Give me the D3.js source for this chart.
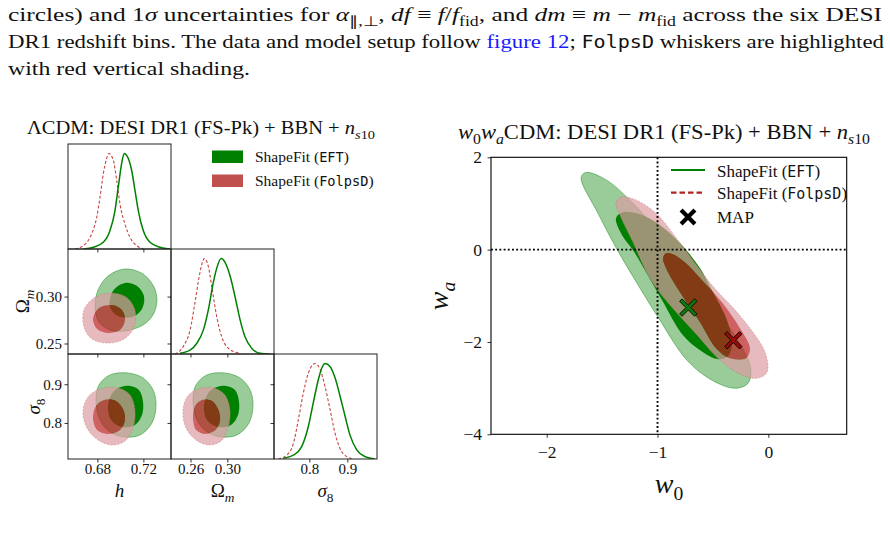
<!DOCTYPE html>
<html><head><meta charset="utf-8">
<script src="https://cdn.jsdelivr.net/npm/d3@7"></script>
<style>body{margin:0;background:#fff}svg{display:block}</style>
</head><body>
<svg id="c" width="890" height="533"></svg>
<script>
// ---------------- DATA ----------------
const hDomain = [0.6545, 0.744], omDomain = [0.2388, 0.3507], s8Domain = [0.707, 0.978];
const hTicks = [0.68, 0.72], omTicksX = [0.26, 0.30], omTicksY = [0.25, 0.30], s8Ticks = [0.8, 0.9];
const w0Domain = [-2.503, 0.7075], waDomain = [-4, 2];
const w0Ticks = [-2, -1, 0], waTicks = [-4, -2, 0, 2];

// 1D marginals (normalised density)
const hEftX = [0.6678,0.6765,0.6852,0.6910,0.6953,0.6982,0.7011,0.7034,0.7055,0.7098,0.7127,0.7156,0.7199,0.7257,0.7344,0.7431];
const hEftP = [0,0.018,0.07,0.193,0.40,0.65,0.895,1,0.98,0.825,0.614,0.40,0.193,0.07,0.018,0];
const hFolX = [0.6606,0.6678,0.6751,0.6794,0.6823,0.6852,0.6881,0.6901,0.6939,0.6968,0.6997,0.7040,0.7084,0.7142,0.7199];
const hFolP = [0,0.035,0.16,0.33,0.54,0.79,0.95,1,0.93,0.72,0.47,0.26,0.12,0.035,0];
const omEftX = [0.2486,0.2595,0.2667,0.2739,0.2793,0.2848,0.2885,0.2932,0.2975,0.3029,0.3084,0.3138,0.3192,0.3265,0.3355,0.3464];
const omEftP = [0.007,0.04,0.11,0.25,0.46,0.75,0.9,1,0.96,0.82,0.6,0.36,0.18,0.06,0.007,0];
const omFolX = [0.2431,0.2522,0.2595,0.2649,0.2696,0.2750,0.2793,0.2830,0.2885,0.2939,0.3011,0.3138];
const omFolP = [0,0.08,0.25,0.54,0.82,1,0.92,0.71,0.39,0.18,0.06,0.007];
const s8EftX = [0.7315,0.7578,0.7799,0.7973,0.8104,0.8236,0.8325,0.8412,0.8544,0.8676,0.8807,0.8939,0.9070,0.9247,0.9465,0.9728];
const s8EftP = [0.007,0.04,0.13,0.34,0.59,0.83,0.95,1,0.97,0.85,0.66,0.45,0.25,0.095,0.025,0];
const s8FolX = [0.7183,0.7404,0.7578,0.7710,0.7841,0.7973,0.8149,0.8281,0.8412,0.8544,0.8676,0.8807,0.8983,0.9157];
const s8FolP = [0,0.04,0.16,0.41,0.69,0.9,1,0.94,0.76,0.52,0.27,0.11,0.025,0];

// 2D contours (95% / 68%), [x, y] in data units
const hOmEft95 = [[0.7040,0.3294],[0.7197,0.3241],[0.7292,0.3102],[0.7318,0.2953],[0.7283,0.2804],[0.7197,0.2697],[0.7040,0.2633],[0.6910,0.2644],[0.6814,0.2729],[0.6780,0.2889],[0.6806,0.3070],[0.6893,0.3220]];
const hOmEft68 = [[0.7040,0.3145],[0.7145,0.3113],[0.7205,0.3006],[0.7188,0.2868],[0.7101,0.2782],[0.6980,0.2793],[0.6910,0.2889],[0.6936,0.3060]];
const hOmFol95 = [[0.6910,0.3038],[0.7049,0.2996],[0.7127,0.2857],[0.7119,0.2676],[0.7032,0.2548],[0.6893,0.2505],[0.6754,0.2548],[0.6684,0.2676],[0.6684,0.2857],[0.6771,0.2985]];
const hOmFol68 = [[0.6927,0.2910],[0.7014,0.2857],[0.7040,0.2750],[0.6997,0.2644],[0.6893,0.2612],[0.6797,0.2655],[0.6762,0.2761],[0.6814,0.2878]];

const hS8Eft95 = [[0.6910,0.9241],[0.7058,0.9292],[0.7197,0.9163],[0.7284,0.8853],[0.7310,0.8465],[0.7275,0.8000],[0.7171,0.7690],[0.7040,0.7638],[0.6910,0.7768],[0.6823,0.8078],[0.6788,0.8595],[0.6814,0.8982]];
const hS8Eft68 = [[0.7084,0.8956],[0.7162,0.8853],[0.7197,0.8543],[0.7188,0.8207],[0.7127,0.7949],[0.7014,0.7897],[0.6919,0.8078],[0.6893,0.8465],[0.6936,0.8801],[0.7006,0.8930]];
const hS8Fol95 = [[0.6823,0.8879],[0.6980,0.8905],[0.7084,0.8724],[0.7127,0.8336],[0.7110,0.7871],[0.7040,0.7535],[0.6927,0.7432],[0.6806,0.7561],[0.6710,0.7871],[0.6675,0.8284],[0.6719,0.8672]];
const hS8Fol68 = [[0.6858,0.8595],[0.6962,0.8569],[0.7023,0.8362],[0.7040,0.8078],[0.6997,0.7819],[0.6893,0.7716],[0.6797,0.7819],[0.6762,0.8129],[0.6788,0.8440]];

const omS8Eft95 = [[0.2779,0.9241],[0.2964,0.9292],[0.3138,0.9163],[0.3247,0.8853],[0.3279,0.8465],[0.3236,0.8000],[0.3105,0.7690],[0.2942,0.7638],[0.2779,0.7768],[0.2671,0.8078],[0.2627,0.8595],[0.2660,0.8982]];
const omS8Eft68 = [[0.2986,0.8956],[0.3084,0.8853],[0.3127,0.8543],[0.3116,0.8207],[0.3040,0.7949],[0.2899,0.7897],[0.2779,0.8078],[0.2747,0.8465],[0.2801,0.8801],[0.2888,0.8930]];
const omS8Fol95 = [[0.2681,0.8879],[0.2855,0.8905],[0.2975,0.8724],[0.3029,0.8336],[0.3008,0.7871],[0.2932,0.7535],[0.2801,0.7432],[0.2660,0.7561],[0.2551,0.7871],[0.2518,0.8284],[0.2562,0.8672]];
const omS8Fol68 = [[0.2725,0.8595],[0.2834,0.8569],[0.2899,0.8362],[0.2921,0.8078],[0.2872,0.7819],[0.2758,0.7716],[0.2660,0.7819],[0.2627,0.8129],[0.2649,0.8440]];

// w0-wa contours
const w0waEft95 = [[-1.645,1.673],[-1.690,1.565],[-1.537,0.786],[-1.366,0.006],[-1.185,-0.729],[-0.995,-1.465],[-0.734,-2.396],[-0.508,-2.829],[-0.301,-3.002],[-0.183,-2.894],[-0.165,-2.504],[-0.553,-0.989],[-0.851,-0.015],[-1.005,0.418],[-1.221,1.002],[-1.456,1.500]];
const w0waEft68 = [[-1.320,0.807],[-1.375,0.677],[-1.320,0.310],[-1.221,-0.015],[-1.113,-0.448],[-0.959,-1.097],[-0.770,-1.855],[-0.616,-2.180],[-0.454,-2.374],[-0.364,-2.309],[-0.328,-2.028],[-0.373,-1.530],[-0.508,-0.881],[-0.616,-0.405],[-0.779,0.093],[-0.977,0.526],[-1.158,0.764]];
const w0waFol95 = [[-1.338,1.132],[-1.375,1.002],[-1.338,0.742],[-1.230,0.201],[-1.041,-0.729],[-0.634,-1.877],[-0.436,-2.396],[-0.255,-2.699],[-0.102,-2.786],[-0.012,-2.656],[-0.030,-2.223],[-0.237,-1.487],[-0.508,-0.773],[-0.761,0.028],[-1.023,0.807],[-1.230,1.110]];
const w0waFol68 = [[-0.923,-0.080],[-0.950,-0.188],[-0.905,-0.491],[-0.797,-0.924],[-0.616,-1.574],[-0.472,-2.136],[-0.346,-2.353],[-0.201,-2.353],[-0.165,-2.136],[-0.255,-1.703],[-0.418,-1.141],[-0.598,-0.665],[-0.743,-0.297],[-0.860,-0.102]];
const mapEft = [-0.722, -1.255], mapFol = [-0.316, -1.963];
const refW0 = -1, refWa = 0;

const seriesNames = ["EFT", "FolpsD"];

// ---------------- STYLE ----------------
const SERIF = "'Liberation Serif','Times New Roman',serif";
const MONO = "'DejaVu Sans Mono','Liberation Mono',monospace";
const GREEN = "#008000";
const RED_LINE = "#c84444";
const RED_PATCH = "#c0504d";
const FOL_OUT = "rgb(220,156,163)", FOL_IN = "rgb(185,30,30)";

const svg = d3.select("#c");
svg.append("rect").attr("width", 890).attr("height", 533).attr("fill", "#fff");

function rich(g, x, y, segs, size, anchor) {
  const t = g.append("text").attr("x", x).attr("y", y)
    .attr("font-family", SERIF).attr("font-size", size).attr("fill", "#111");
  if (anchor) t.attr("text-anchor", anchor);
  let shift = 0;
  segs.forEach(s => {
    const sp = t.append("tspan").text(s.t);
    const target = s.sub ? size * 0.26 : 0;
    const dy = target - shift;
    if (Math.abs(dy) > 1e-6) sp.attr("dy", dy);
    shift = target;
    if (s.sub) sp.attr("font-size", size * 0.7);
    if (s.it) sp.attr("font-style", "italic");
    if (s.mono) sp.attr("font-family", MONO).attr("font-size", (s.sub ? 0.7 : 1) * size * 0.88);
    if (s.fill) sp.attr("fill", s.fill);
  });
  return t;
}
function fit(t, width) {
  t.attr("textLength", width).attr("lengthAdjust", "spacingAndGlyphs");
  return t;
}

// ---------------- CAPTION ----------------
const cap = svg.append("g");
const CS = 19.5;
fit(rich(cap, 8, 21, [
  {t: "circles) and 1"}, {t: "σ", it: 1}, {t: " uncertainties for "}, {t: "α", it: 1}, {t: "∥,⊥", sub: 1},
  {t: ", "}, {t: "df", it: 1}, {t: " ≡ "}, {t: "f", it: 1}, {t: "/"}, {t: "f", it: 1}, {t: "fid", sub: 1},
  {t: ", and "}, {t: "dm", it: 1}, {t: " ≡ "}, {t: "m", it: 1}, {t: " − "}, {t: "m", it: 1}, {t: "fid", sub: 1},
  {t: " across the six DESI"}], CS), 874);
fit(rich(cap, 8, 48, [
  {t: "DR1 redshift bins. The data and model setup follow "}, {t: "figure 12", fill: "#1a1aff"},
  {t: "; "}, {t: "FolpsD", mono: 1}, {t: " whiskers are highlighted"}], CS), 876);
fit(rich(cap, 8, 75, [{t: "with red vertical shading."}], CS), 242);

// ---------------- CORNER PLOT ----------------
const cols = [68, 171, 274], rows = [144, 249, 354], PW = 103, PH = 105;
const vars = [
  {key: "h", domain: hDomain, tx: hTicks, ty: hTicks, fmt: d3.format(".2f"), lab: [{t: "h", it: 1}]},
  {key: "om", domain: omDomain, tx: omTicksX, ty: omTicksY, fmt: d3.format(".2f"), lab: [{t: "Ω"}, {t: "m", it: 1, sub: 1}]},
  {key: "s8", domain: s8Domain, tx: s8Ticks, ty: s8Ticks, fmt: d3.format(".1f"), lab: [{t: "σ", it: 1}, {t: "8", sub: 1}]}
];
const marg = [
  [[hEftX, hEftP], [hFolX, hFolP]],
  [[omEftX, omEftP], [omFolX, omFolP]],
  [[s8EftX, s8EftP], [s8FolX, s8FolP]]
];
const cont = {
  "1-0": [hOmEft95, hOmEft68, hOmFol95, hOmFol68],
  "2-0": [hS8Eft95, hS8Eft68, hS8Fol95, hS8Fol68],
  "2-1": [omS8Eft95, omS8Eft68, omS8Fol95, omS8Fol68]
};
const defs = svg.append("defs");
let clipId = 0;

function drawContours(g, xs, ys, c) {
  const line = d3.line().x(d => xs(d[0])).y(d => ys(d[1])).curve(d3.curveCatmullRomClosed.alpha(0.5));
  g.append("path").attr("d", line(c[0])).attr("fill", GREEN).attr("fill-opacity", 0.4)
    .attr("stroke", GREEN).attr("stroke-opacity", 0.55).attr("stroke-width", 0.8);
  g.append("path").attr("d", line(c[1])).attr("fill", GREEN);
  g.append("path").attr("d", line(c[2]) + line(c[3])).attr("fill", FOL_OUT).attr("fill-opacity", 0.7)
    .attr("fill-rule", "evenodd");
  g.append("path").attr("d", line(c[2])).attr("fill", "none").attr("stroke", "#c87070")
    .attr("stroke-opacity", 0.6).attr("stroke-width", 0.8).attr("stroke-dasharray", "2,1.5");
  g.append("path").attr("d", line(c[3])).attr("fill", FOL_IN).attr("fill-opacity", 0.7);
}

function styleAxis(a, size) {
  a.attr("font-family", SERIF);
  a.select(".domain").remove();
  a.selectAll(".tick line").attr("stroke", "#000").attr("stroke-width", 0.8);
  a.selectAll("text").attr("font-family", SERIF).attr("font-size", size).attr("fill", "#111");
}

const corner = svg.append("g");
for (let r = 0; r < 3; r++) {
  for (let c = 0; c <= r; c++) {
    const x0 = cols[c], y0 = rows[r];
    const xs = d3.scaleLinear(vars[c].domain, [x0, x0 + PW]);
    const g = corner.append("g");
    const id = "clp" + (clipId++);
    defs.append("clipPath").attr("id", id).append("rect").attr("x", x0).attr("y", y0).attr("width", PW).attr("height", PH);
    const inner = g.append("g").attr("clip-path", `url(#${id})`);
    if (r === c) {
      const ys = d3.scaleLinear([0, 1.1], [y0 + PH, y0]);
      const line = d3.line().x(d => xs(d[0])).y(d => ys(d[1])).curve(d3.curveMonotoneX);
      const [eft, fol] = marg[r];
      inner.append("path").attr("d", line(d3.zip(fol[0], fol[1]))).attr("fill", "none")
        .attr("stroke", RED_LINE).attr("stroke-width", 1.1).attr("stroke-dasharray", "3,2");
      inner.append("path").attr("d", line(d3.zip(eft[0], eft[1]))).attr("fill", "none")
        .attr("stroke", GREEN).attr("stroke-width", 1.5);
    } else {
      const ys = d3.scaleLinear(vars[r].domain, [y0 + PH, y0]);
      drawContours(inner, xs, ys, cont[r + "-" + c]);
    }
    g.append("rect").attr("x", x0).attr("y", y0).attr("width", PW).attr("height", PH)
      .attr("fill", "none").attr("stroke", "#222").attr("stroke-width", 1);
    const ab = g.append("g").attr("transform", `translate(0,${y0 + PH})`)
      .call(d3.axisBottom(xs).tickValues(vars[c].tx).tickSize(3.5).tickPadding(1)
        .tickFormat(r === 2 ? vars[c].fmt : () => ""));
    styleAxis(ab, 15);
    if (r > 0) {
      const yv = d3.scaleLinear(vars[r].domain, [y0 + PH, y0]);
      const al = g.append("g").attr("transform", `translate(${x0},0)`)
        .call(d3.axisLeft(yv).tickValues(vars[r].ty).tickSize(3.5).tickPadding(2.5)
          .tickFormat(c === 0 ? vars[r].fmt : () => ""));
      styleAxis(al, 15);
    }
  }
}
vars.forEach((v, i) => rich(corner, cols[i] + PW / 2, 497, v.lab, 19, "middle"));
[[1, 29], [2, 40]].forEach(([i, bx]) => {
  const gg = corner.append("g").attr("transform", `translate(${bx},${rows[i] + PH / 2}) rotate(-90)`);
  rich(gg, 0, 0, vars[i].lab, 19, "middle");
});
fit(rich(corner, 201, 134, [{t: "ΛCDM: DESI DR1 (FS-Pk) + BBN + "}, {t: "n", it: 1}, {t: "s", it: 1, sub: 1}, {t: "10", sub: 1}], 18.5, "middle"), 348);
const lg = corner.append("g");
[[GREEN, 150.5, "EFT"], [RED_PATCH, 174.5, "FolpsD"]].forEach(([col, y, nm]) => {
  lg.append("rect").attr("x", 212).attr("y", y).attr("width", 31).attr("height", 12.5).attr("fill", col);
  rich(lg, 255, y + 11.5, [{t: "ShapeFit ("}, {t: nm, mono: 1}, {t: ")"}], 15.5);
});

// ---------------- W0-WA PLOT ----------------
const R = {x0: 491, x1: 846.7, y0: 157.3, y1: 434.3};
const xw = d3.scaleLinear(w0Domain, [R.x0, R.x1]);
const yw = d3.scaleLinear(waDomain, [R.y1, R.y0]);
const rp = svg.append("g");
defs.append("clipPath").attr("id", "clipw").append("rect").attr("x", R.x0).attr("y", R.y0)
  .attr("width", R.x1 - R.x0).attr("height", R.y1 - R.y0);
const rin = rp.append("g").attr("clip-path", "url(#clipw)");
drawContours(rin, xw, yw, [w0waEft95, w0waEft68, w0waFol95, w0waFol68]);
rin.append("line").attr("x1", xw(refW0)).attr("x2", xw(refW0)).attr("y1", R.y0).attr("y2", R.y1)
  .attr("stroke", "#000").attr("stroke-width", 1.9).attr("stroke-dasharray", "1.9,2.3");
rin.append("line").attr("x1", R.x0).attr("x2", R.x1).attr("y1", yw(refWa)).attr("y2", yw(refWa))
  .attr("stroke", "#000").attr("stroke-width", 1.9).attr("stroke-dasharray", "1.9,2.3");

function xPath(s, t) {
  return `M${-t},${-s}L${t},${-s}L${t},${-t}L${s},${-t}L${s},${t}L${t},${t}L${t},${s}L${-t},${s}L${-t},${t}L${-s},${t}L${-s},${-t}L${-t},${-t}Z`;
}
[[mapEft, "#0a7a0a"], [mapFol, "#9a0a0a"]].forEach(([p, col]) => {
  rp.append("path").attr("d", xPath(10.6, 1.7))
    .attr("transform", `translate(${xw(p[0])},${yw(p[1])}) rotate(45)`)
    .attr("fill", col).attr("stroke", "#000").attr("stroke-width", 0.8);
});
rp.append("rect").attr("x", R.x0).attr("y", R.y0).attr("width", R.x1 - R.x0).attr("height", R.y1 - R.y0)
  .attr("fill", "none").attr("stroke", "#000").attr("stroke-width", 1.1);
const fmtw = d => d3.format("d")(d).replace("-", "−");
const axb = rp.append("g").attr("transform", `translate(0,${R.y1})`)
  .call(d3.axisBottom(xw).tickValues(w0Ticks).tickSize(3.5).tickPadding(8).tickFormat(fmtw));
styleAxis(axb, 17.5);
const axl = rp.append("g").attr("transform", `translate(${R.x0},0)`)
  .call(d3.axisLeft(yw).tickValues(waTicks).tickSize(3.5).tickPadding(5.5).tickFormat(fmtw));
styleAxis(axl, 17.5);
rich(rp, 669, 493, [{t: "w", it: 1}, {t: "0", sub: 1}], 28, "middle");
const wl = rp.append("g").attr("transform", `translate(448,296) rotate(-90)`);
rich(wl, 0, 0, [{t: "w", it: 1}, {t: "a", it: 1, sub: 1}], 28, "middle");
fit(rich(rp, 664, 139, [{t: "w", it: 1}, {t: "0", sub: 1}, {t: "w", it: 1}, {t: "a", it: 1, sub: 1},
  {t: "CDM: DESI DR1 (FS-Pk) + BBN + "}, {t: "n", it: 1}, {t: "s", it: 1, sub: 1}, {t: "10", sub: 1}], 20, "middle"), 412);
const rl = rp.append("g");
rl.append("line").attr("x1", 671).attr("x2", 705).attr("y1", 170).attr("y2", 170).attr("stroke", GREEN).attr("stroke-width", 2.2);
rl.append("line").attr("x1", 671).attr("x2", 705).attr("y1", 192.7).attr("y2", 192.7).attr("stroke", "#b22222")
  .attr("stroke-width", 2.2).attr("stroke-dasharray", "5.5,3");
rl.append("path").attr("d", xPath(9.8, 2.1)).attr("transform", "translate(688,217) rotate(45)").attr("fill", "#000");
rich(rl, 717, 176.5, [{t: "ShapeFit ("}, {t: seriesNames[0], mono: 1}, {t: ")"}], 17);
rich(rl, 717, 199, [{t: "ShapeFit ("}, {t: seriesNames[1], mono: 1}, {t: ")"}], 17);
rich(rl, 717, 222.5, [{t: "MAP"}], 17);
</script>
</body></html>
